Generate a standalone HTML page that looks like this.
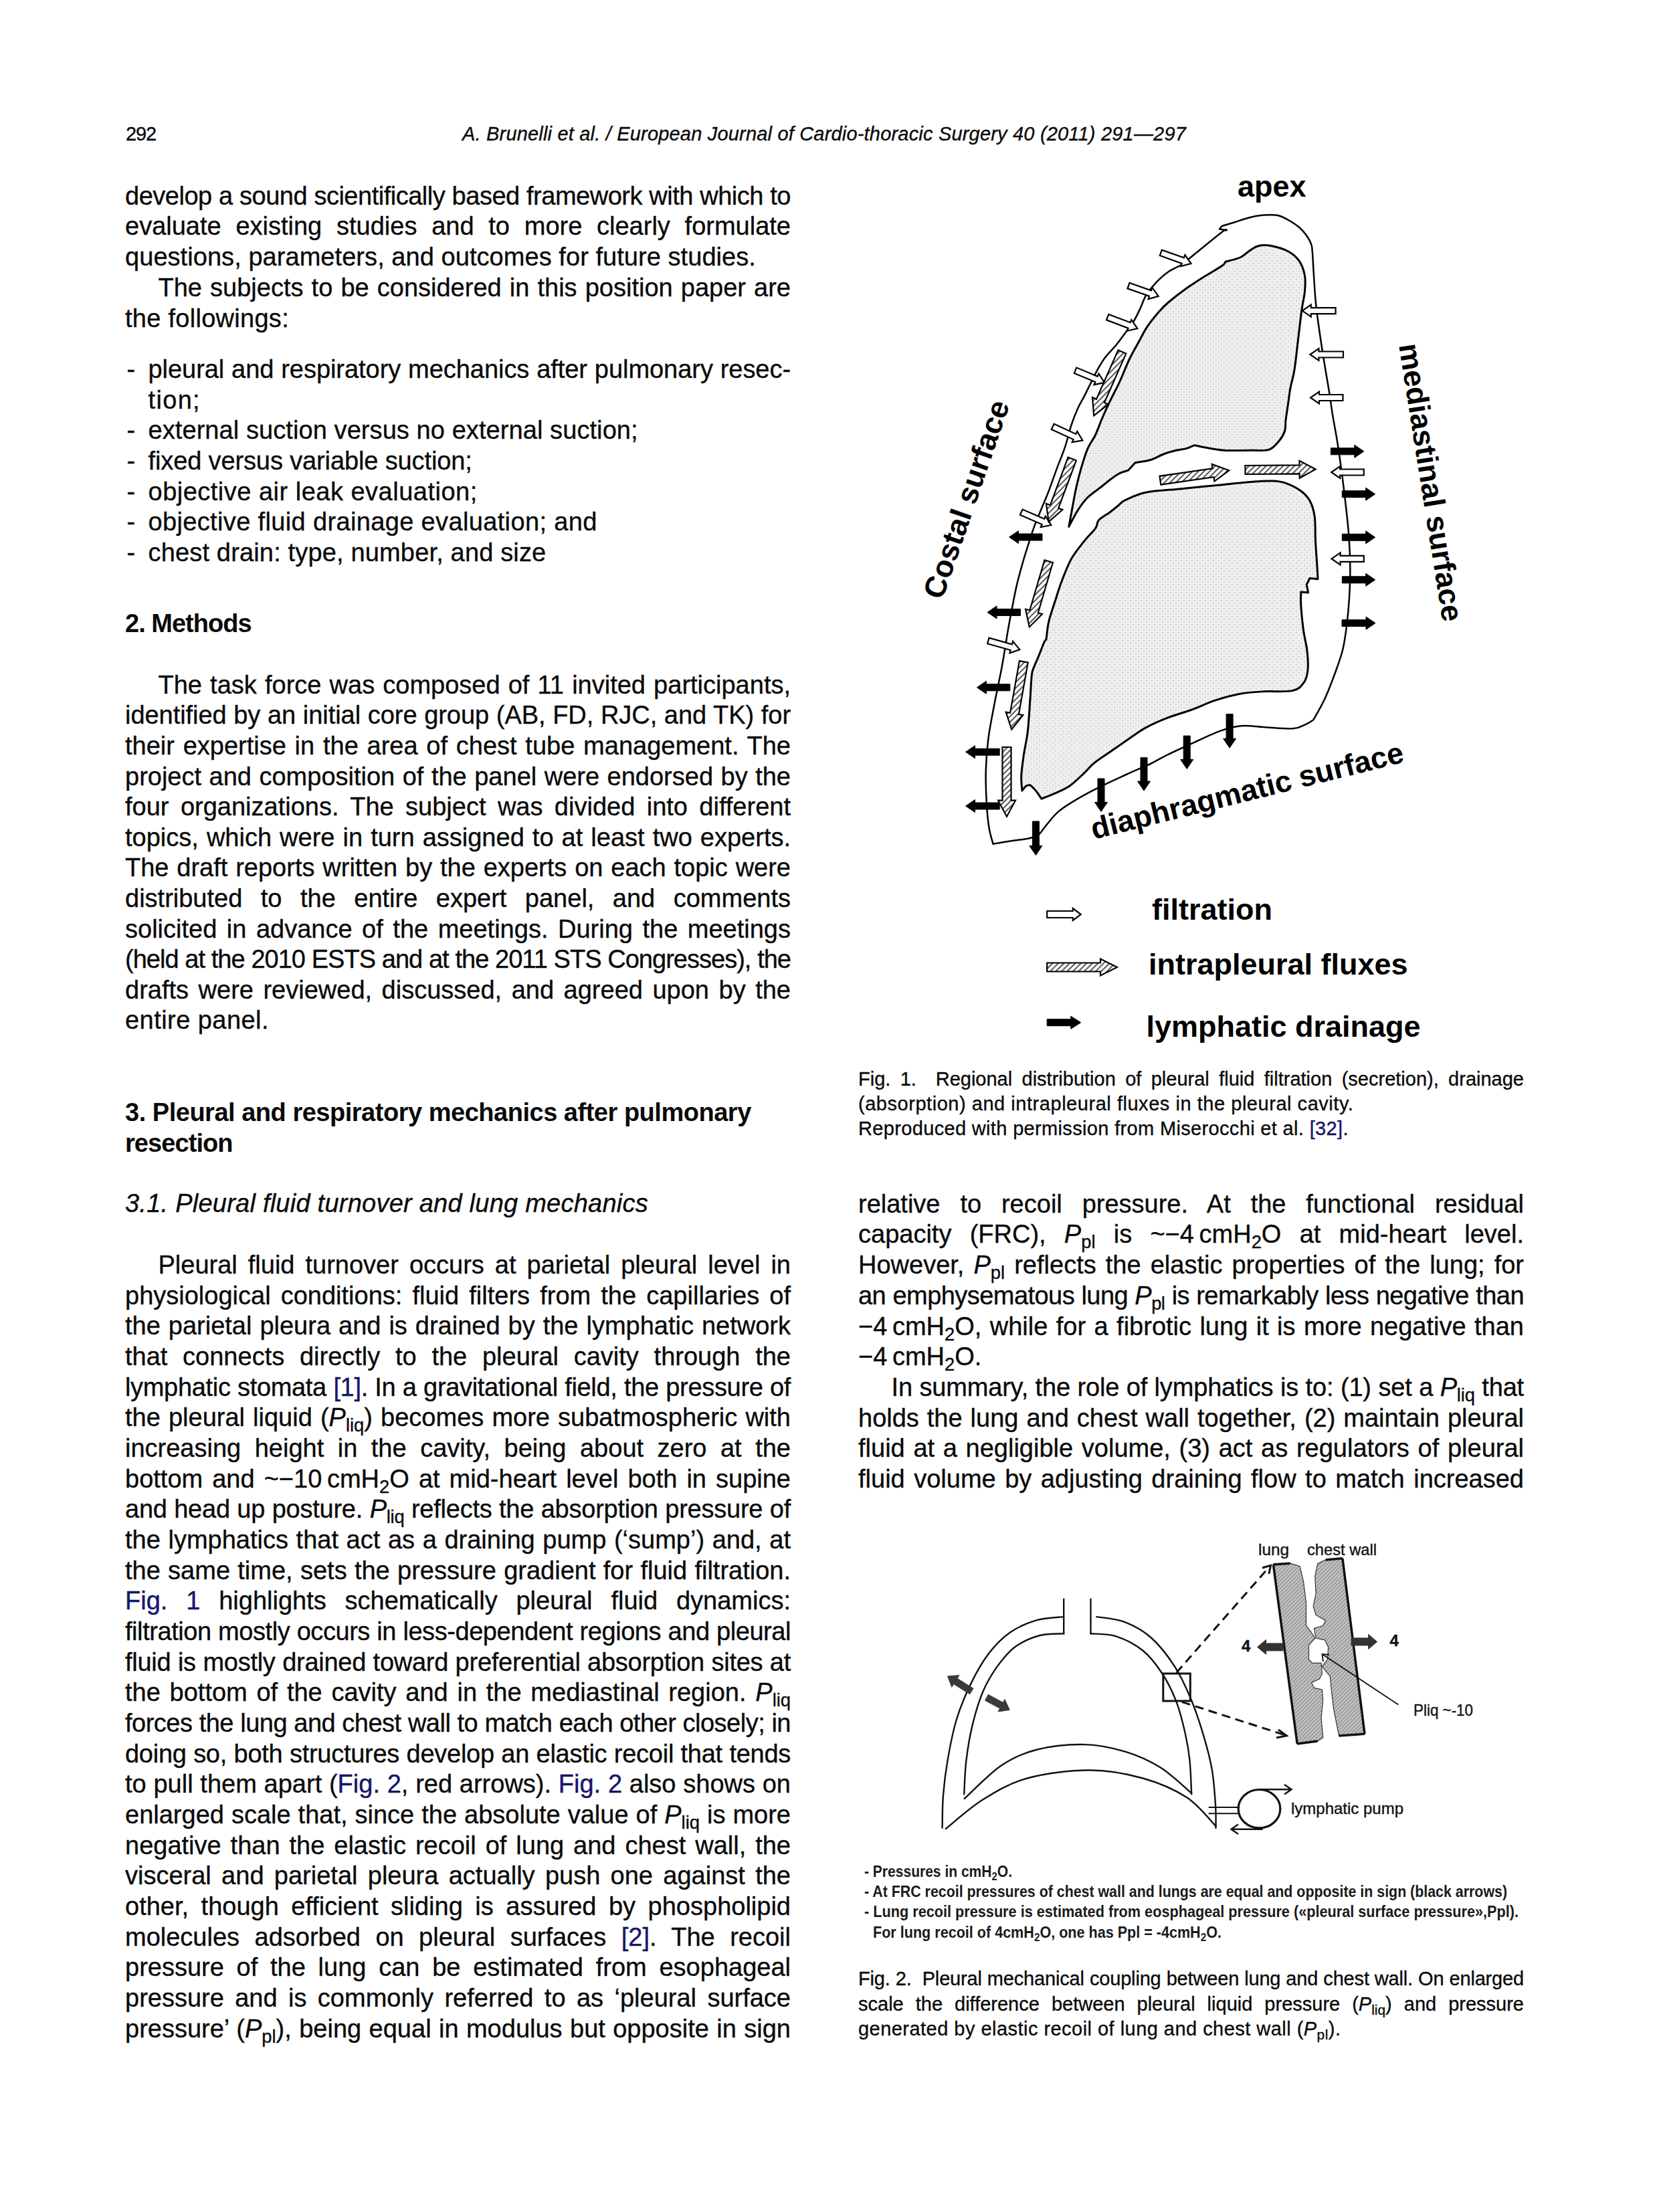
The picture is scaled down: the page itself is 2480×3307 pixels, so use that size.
<!DOCTYPE html><html><head><meta charset="utf-8"><style>
*{margin:0;padding:0}
html,body{width:2480px;height:3307px;background:#fff;overflow:hidden}
body{position:relative;font-family:"Liberation Sans",sans-serif;color:#0a0a0a}
.t{position:absolute;white-space:nowrap;font-size:38px;line-height:46px;-webkit-text-stroke:0.35px #0a0a0a}
.j{text-align:justify;text-align-last:justify;white-space:normal}
.hb{font-weight:bold;-webkit-text-stroke:0}
.hi{font-style:italic}
.cap{font-size:29px;line-height:37px}
.hd{font-size:29px;line-height:34px}
.hi2{font-style:italic}
.sb{font-size:72%;vertical-align:-0.28em;line-height:0}
.bl{color:#141482}
i{font-style:italic}
svg{position:absolute;left:0;top:0}
</style></head><body>
<div class="t j" style="left:187.0px;top:269.7px;width:995.0px;letter-spacing:-0.488px">develop a sound scientifically based framework with which to</div>
<div class="t j" style="left:187.0px;top:315.4px;width:995.0px">evaluate existing studies and to more clearly formulate</div>
<div class="t" style="left:187.0px;top:361.1px;letter-spacing:0.055px">questions, parameters, and outcomes for future studies.</div>
<div class="t j" style="left:236.5px;top:406.8px;width:945.5px">The subjects to be considered in this position paper are</div>
<div class="t" style="left:187.0px;top:452.5px;letter-spacing:0.279px">the followings:</div>
<div class="t" style="left:189.5px;top:528.8px">-</div>
<div class="t j" style="left:221.5px;top:528.8px;width:960.5px;letter-spacing:-0.044px">pleural and respiratory mechanics after pulmonary resec-</div>
<div class="t" style="left:221.5px;top:574.5px;letter-spacing:1.334px">tion;</div>
<div class="t" style="left:189.5px;top:620.2px">-</div>
<div class="t" style="left:221.5px;top:620.2px;letter-spacing:0.079px">external suction versus no external suction;</div>
<div class="t" style="left:189.5px;top:665.9px">-</div>
<div class="t" style="left:221.5px;top:665.9px;letter-spacing:-0.124px">fixed versus variable suction;</div>
<div class="t" style="left:189.5px;top:711.6px">-</div>
<div class="t" style="left:221.5px;top:711.6px;letter-spacing:0.493px">objective air leak evaluation;</div>
<div class="t" style="left:189.5px;top:757.3px">-</div>
<div class="t" style="left:221.5px;top:757.3px;letter-spacing:0.354px">objective fluid drainage evaluation; and</div>
<div class="t" style="left:189.5px;top:803.0px">-</div>
<div class="t" style="left:221.5px;top:803.0px;letter-spacing:0.159px">chest drain: type, number, and size</div>
<div class="t hb" style="left:187.0px;top:908.6px;letter-spacing:-0.987px">2. Methods</div>
<div class="t j" style="left:236.5px;top:1000.8px;width:945.5px">The task force was composed of 11 invited participants,</div>
<div class="t j" style="left:187.0px;top:1046.4px;width:995.0px;letter-spacing:-0.052px">identified by an initial core group (AB, FD, RJC, and TK) for</div>
<div class="t j" style="left:187.0px;top:1092.0px;width:995.0px">their expertise in the area of chest tube management. The</div>
<div class="t j" style="left:187.0px;top:1137.6px;width:995.0px">project and composition of the panel were endorsed by the</div>
<div class="t j" style="left:187.0px;top:1183.2px;width:995.0px">four organizations. The subject was divided into different</div>
<div class="t j" style="left:187.0px;top:1228.8px;width:995.0px">topics, which were in turn assigned to at least two experts.</div>
<div class="t j" style="left:187.0px;top:1274.4px;width:995.0px">The draft reports written by the experts on each topic were</div>
<div class="t j" style="left:187.0px;top:1320.0px;width:995.0px">distributed to the entire expert panel, and comments</div>
<div class="t j" style="left:187.0px;top:1365.6px;width:995.0px">solicited in advance of the meetings. During the meetings</div>
<div class="t j" style="left:187.0px;top:1411.2px;width:995.0px;letter-spacing:-0.988px">(held at the 2010 ESTS and at the 2011 STS Congresses), the</div>
<div class="t j" style="left:187.0px;top:1456.8px;width:995.0px">drafts were reviewed, discussed, and agreed upon by the</div>
<div class="t" style="left:187.0px;top:1502.4px;letter-spacing:0.450px">entire panel.</div>
<div class="t hb" style="left:187.0px;top:1639.6px;letter-spacing:-0.483px">3. Pleural and respiratory mechanics after pulmonary</div>
<div class="t hb" style="left:187.0px;top:1685.5px;letter-spacing:-0.930px">resection</div>
<div class="t hi" style="left:187.0px;top:1776.0px;letter-spacing:0.239px">3.1. Pleural fluid turnover and lung mechanics</div>
<div class="t j" style="left:236.5px;top:1867.8px;width:945.5px">Pleural fluid turnover occurs at parietal pleural level in</div>
<div class="t j" style="left:187.0px;top:1913.5px;width:995.0px">physiological conditions: fluid filters from the capillaries of</div>
<div class="t j" style="left:187.0px;top:1959.2px;width:995.0px">the parietal pleura and is drained by the lymphatic network</div>
<div class="t j" style="left:187.0px;top:2004.8px;width:995.0px">that connects directly to the pleural cavity through the</div>
<div class="t j" style="left:187.0px;top:2050.5px;width:995.0px;letter-spacing:-0.326px">lymphatic stomata <span class="bl">[1]</span>. In a gravitational field, the pressure of</div>
<div class="t j" style="left:187.0px;top:2096.2px;width:995.0px">the pleural liquid (<i>P</i><span class="sb">liq</span>) becomes more subatmospheric with</div>
<div class="t j" style="left:187.0px;top:2141.8px;width:995.0px">increasing height in the cavity, being about zero at the</div>
<div class="t j" style="left:187.0px;top:2187.5px;width:995.0px">bottom and ~−10&#8201;cmH<span class="sb">2</span>O at mid-heart level both in supine</div>
<div class="t j" style="left:187.0px;top:2233.2px;width:995.0px;letter-spacing:-0.239px">and head up posture. <i>P</i><span class="sb">liq</span> reflects the absorption pressure of</div>
<div class="t j" style="left:187.0px;top:2278.9px;width:995.0px">the lymphatics that act as a draining pump (‘sump’) and, at</div>
<div class="t j" style="left:187.0px;top:2324.5px;width:995.0px">the same time, sets the pressure gradient for fluid filtration.</div>
<div class="t j" style="left:187.0px;top:2370.2px;width:995.0px"><span class="bl">Fig. 1</span> highlights schematically pleural fluid dynamics:</div>
<div class="t j" style="left:187.0px;top:2415.9px;width:995.0px;letter-spacing:-0.439px">filtration mostly occurs in less-dependent regions and pleural</div>
<div class="t j" style="left:187.0px;top:2461.5px;width:995.0px;letter-spacing:-0.264px">fluid is mostly drained toward preferential absorption sites at</div>
<div class="t j" style="left:187.0px;top:2507.2px;width:995.0px">the bottom of the cavity and in the mediastinal region. <i>P</i><span class="sb">liq</span></div>
<div class="t j" style="left:187.0px;top:2552.9px;width:995.0px;letter-spacing:-0.507px">forces the lung and chest wall to match each other closely; in</div>
<div class="t j" style="left:187.0px;top:2598.5px;width:995.0px;letter-spacing:-0.270px">doing so, both structures develop an elastic recoil that tends</div>
<div class="t j" style="left:187.0px;top:2644.2px;width:995.0px">to pull them apart (<span class="bl">Fig. 2</span>, red arrows). <span class="bl">Fig. 2</span> also shows on</div>
<div class="t j" style="left:187.0px;top:2689.9px;width:995.0px">enlarged scale that, since the absolute value of <i>P</i><span class="sb">liq</span> is more</div>
<div class="t j" style="left:187.0px;top:2735.6px;width:995.0px">negative than the elastic recoil of lung and chest wall, the</div>
<div class="t j" style="left:187.0px;top:2781.2px;width:995.0px">visceral and parietal pleura actually push one against the</div>
<div class="t j" style="left:187.0px;top:2826.9px;width:995.0px">other, though efficient sliding is assured by phospholipid</div>
<div class="t j" style="left:187.0px;top:2872.6px;width:995.0px">molecules adsorbed on pleural surfaces <span class="bl">[2]</span>. The recoil</div>
<div class="t j" style="left:187.0px;top:2918.2px;width:995.0px">pressure of the lung can be estimated from esophageal</div>
<div class="t j" style="left:187.0px;top:2963.9px;width:995.0px">pressure and is commonly referred to as ‘pleural surface</div>
<div class="t j" style="left:187.0px;top:3009.6px;width:995.0px">pressure’ (<i>P</i><span class="sb">pl</span>), being equal in modulus but opposite in sign</div>
<div class="t j" style="left:1283.0px;top:1776.7px;width:995.0px">relative to recoil pressure. At the functional residual</div>
<div class="t j" style="left:1283.0px;top:1822.4px;width:995.0px">capacity (FRC), <i>P</i><span class="sb">pl</span> is ~−4&#8201;cmH<span class="sb">2</span>O at mid-heart level.</div>
<div class="t j" style="left:1283.0px;top:1868.1px;width:995.0px">However, <i>P</i><span class="sb">pl</span> reflects the elastic properties of the lung; for</div>
<div class="t j" style="left:1283.0px;top:1913.8px;width:995.0px;letter-spacing:-0.545px">an emphysematous lung <i>P</i><span class="sb">pl</span> is remarkably less negative than</div>
<div class="t j" style="left:1283.0px;top:1959.5px;width:995.0px">−4&#8201;cmH<span class="sb">2</span>O, while for a fibrotic lung it is more negative than</div>
<div class="t" style="left:1283.0px;top:2005.2px">−4&#8201;cmH<span class="sb">2</span>O.</div>
<div class="t j" style="left:1332.5px;top:2050.9px;width:945.5px;letter-spacing:-0.169px">In summary, the role of lymphatics is to: (1) set a <i>P</i><span class="sb">liq</span> that</div>
<div class="t j" style="left:1283.0px;top:2096.6px;width:995.0px">holds the lung and chest wall together, (2) maintain pleural</div>
<div class="t j" style="left:1283.0px;top:2142.3px;width:995.0px">fluid at a negligible volume, (3) act as regulators of pleural</div>
<div class="t j" style="left:1283.0px;top:2188.0px;width:995.0px">fluid volume by adjusting draining flow to match increased</div>
<div class="t cap j" style="left:1283.0px;top:1594.8px;width:995.0px">Fig. 1.&nbsp; Regional distribution of pleural fluid filtration (secretion), drainage</div>
<div class="t cap" style="left:1283.0px;top:1632.4px;letter-spacing:0.537px">(absorption) and intrapleural fluxes in the pleural cavity.</div>
<div class="t cap" style="left:1283.0px;top:1669.4px;letter-spacing:0.341px">Reproduced with permission from Miserocchi et al. <span class="bl">[32]</span>.</div>
<div class="t cap j" style="left:1283.0px;top:2940.3px;width:995.0px;letter-spacing:-0.168px">Fig. 2.&nbsp; Pleural mechanical coupling between lung and chest wall. On enlarged</div>
<div class="t cap j" style="left:1283.0px;top:2978.2px;width:995.0px">scale the difference between pleural liquid pressure (<i>P</i><span class="sb">liq</span>) and pressure</div>
<div class="t cap" style="left:1283.0px;top:3014.9px;letter-spacing:0.465px">generated by elastic recoil of lung and chest wall (<i>P</i><span class="sb">pl</span>).</div>
<div class="t hd" style="left:188.0px;top:182.7px;letter-spacing:-1.130px">292</div>
<div class="t hd hi2" style="left:691.0px;top:182.7px;letter-spacing:0.188px">A. Brunelli et al. / European Journal of Cardio-thoracic Surgery 40 (2011) 291—297</div>
<svg width="2480" height="3307" viewBox="0 0 2480 3307"><defs>
<pattern id="stip" width="8" height="8" patternUnits="userSpaceOnUse">
<rect width="8" height="8" fill="#f3f3f3"/>
<circle cx="2" cy="2" r="1.4" fill="#d6d6d6"/><circle cx="6" cy="6" r="1.4" fill="#d6d6d6"/><circle cx="2" cy="6" r="0.9" fill="#e2e2e2"/><circle cx="6" cy="2" r="0.9" fill="#e2e2e2"/>
</pattern>
<pattern id="hat" width="6" height="6" patternUnits="userSpaceOnUse" patternTransform="rotate(45)">
<rect width="6" height="6" fill="#fff"/><rect width="1.8" height="6" fill="#444"/>
</pattern>
<pattern id="hat2" width="4" height="4" patternUnits="userSpaceOnUse" patternTransform="rotate(45)">
<rect width="4" height="4" fill="#c4c4c4"/><rect width="1.3" height="4" fill="#8a8a8a"/>
</pattern>
</defs>
<path d="M1826.6,338.0 C1829.6,337.1 1839.1,334.2 1844.7,332.5 C1850.3,330.8 1854.0,329.1 1860.0,327.5 C1866.0,325.9 1874.3,323.6 1880.8,322.6 C1887.3,321.6 1893.7,321.3 1898.9,321.3 C1904.1,321.3 1907.5,321.2 1912.0,322.5 C1916.5,323.8 1921.0,326.1 1926.0,329.0 C1931.0,331.9 1937.8,336.2 1942.3,340.0 C1946.8,343.8 1950.0,347.7 1953.0,352.0 C1956.0,356.3 1958.9,361.1 1960.4,366.0 C1961.9,370.9 1961.6,373.7 1962.2,381.4 C1962.8,389.1 1963.1,399.1 1964.0,412.0 C1964.9,424.9 1965.5,440.3 1967.6,459.0 C1969.7,477.7 1973.4,502.3 1976.7,524.0 C1980.0,545.7 1985.0,573.2 1987.5,589.0 C1990.0,604.8 1989.9,606.8 1991.8,618.6 C1993.7,630.4 1996.8,645.9 1999.0,659.6 C2001.2,673.3 2003.0,685.7 2005.0,700.6 C2007.0,715.5 2009.2,732.7 2011.0,748.8 C2012.8,764.9 2014.8,780.9 2016.0,797.0 C2017.2,813.1 2018.1,829.1 2018.3,845.2 C2018.5,861.3 2017.9,878.2 2017.0,893.4 C2016.1,908.6 2014.7,923.1 2013.0,936.2 C2011.3,949.4 2010.0,960.2 2007.0,972.3 C2004.0,984.3 1999.3,996.4 1994.9,1008.5 C1990.5,1020.6 1985.6,1033.5 1980.4,1044.7 C1975.2,1056.0 1966.3,1070.8 1963.5,1076.0 C1961.5,1077.2 1956.7,1081.0 1951.5,1083.2 C1946.3,1085.4 1942.7,1088.7 1932.2,1089.3 C1921.8,1089.9 1901.7,1087.6 1888.8,1086.9 C1875.9,1086.2 1865.8,1084.2 1855.0,1085.2 C1844.2,1086.2 1836.2,1088.4 1823.7,1092.9 C1811.2,1097.4 1793.6,1106.2 1780.3,1112.2 C1767.0,1118.2 1754.2,1124.0 1744.1,1129.0 C1734.0,1134.0 1729.7,1137.2 1719.6,1142.0 C1709.5,1146.8 1695.5,1152.5 1683.4,1158.0 C1671.4,1163.5 1659.3,1168.9 1647.3,1174.9 C1635.2,1180.9 1621.9,1187.8 1611.1,1194.2 C1600.2,1200.6 1590.2,1206.6 1582.2,1213.4 C1574.2,1220.2 1567.7,1229.5 1562.9,1235.1 C1558.1,1240.7 1557.2,1244.2 1553.2,1247.2 C1549.2,1250.2 1545.2,1251.6 1538.8,1253.2 C1532.4,1254.8 1523.8,1255.4 1514.7,1256.8 C1505.7,1258.2 1489.5,1260.9 1484.5,1261.7 C1483.5,1257.7 1480.1,1247.6 1478.5,1237.6 C1476.9,1227.5 1475.7,1215.5 1474.9,1201.4 C1474.1,1187.3 1473.3,1169.3 1473.7,1153.2 C1474.1,1137.1 1475.3,1121.1 1477.3,1105.0 C1479.3,1088.9 1482.3,1074.8 1485.7,1056.7 C1489.1,1038.6 1494.3,1015.2 1497.8,996.4 C1501.3,977.6 1504.1,958.0 1506.5,944.0 C1508.9,930.0 1510.1,923.9 1512.3,912.7 C1514.5,901.5 1516.7,888.7 1519.5,876.6 C1522.3,864.5 1525.9,851.7 1529.1,840.4 C1532.3,829.1 1536.0,817.8 1538.8,809.0 C1541.6,800.2 1543.2,795.0 1546.0,787.4 C1548.8,779.8 1552.1,772.1 1555.7,763.2 C1559.3,754.4 1563.7,744.7 1567.7,734.3 C1571.7,723.9 1575.8,711.5 1579.8,700.6 C1583.8,689.8 1588.2,680.1 1591.8,669.2 C1595.4,658.4 1598.3,645.2 1601.5,635.5 C1604.7,625.8 1607.8,618.2 1611.0,611.0 C1614.2,603.8 1617.6,598.7 1620.8,592.4 C1624.0,586.1 1627.2,579.4 1630.4,573.0 C1633.6,566.6 1636.4,560.2 1640.0,553.8 C1643.6,547.4 1647.2,540.9 1652.0,534.5 C1656.8,528.1 1663.8,521.6 1669.0,515.2 C1674.2,508.8 1679.0,502.0 1683.4,496.0 C1687.8,490.0 1691.9,485.0 1695.5,479.0 C1699.1,473.0 1702.3,465.8 1705.1,459.8 C1707.9,453.8 1709.6,447.9 1712.4,442.9 C1715.2,437.9 1718.8,433.6 1722.0,429.6 C1725.2,425.6 1727.7,422.6 1731.7,418.8 C1735.7,415.0 1740.1,410.7 1746.1,406.7 C1752.1,402.7 1762.2,398.3 1767.8,394.7 C1773.4,391.1 1769.8,392.9 1779.6,385.0 C1789.4,377.1 1817.6,353.8 1826.6,347.0 C1835.6,340.2 1832.6,344.8 1833.8,344.3 L1823.0,342.5 L1826.6,338.0Z" fill="none" stroke="#000" stroke-width="2.5" stroke-linejoin="round"/>
<path d="M1785.6,665.7 C1783.5,666.5 1777.5,669.3 1772.9,670.6 C1768.3,671.9 1763.7,671.9 1758.1,673.3 C1752.5,674.7 1745.5,676.6 1739.2,679.0 C1732.9,681.4 1727.2,685.4 1720.2,687.5 C1713.2,689.6 1700.9,691.0 1697.0,691.7 L1686.4,703.3 C1684.3,704.0 1678.0,705.4 1673.8,707.5 C1669.6,709.6 1665.4,712.8 1661.0,716.0 C1656.6,719.2 1653.2,722.3 1647.3,727.0 C1641.4,731.7 1631.6,738.0 1625.6,744.0 C1619.5,750.0 1615.6,756.0 1611.0,763.2 C1606.4,770.4 1600.0,783.4 1597.8,787.4 C1598.6,783.0 1600.9,770.4 1602.7,760.8 C1604.5,751.1 1606.5,739.5 1608.7,729.5 C1610.9,719.5 1613.2,710.2 1616.0,700.6 C1618.8,691.0 1622.0,680.0 1625.6,671.6 C1629.2,663.2 1634.0,657.6 1637.6,650.0 C1641.2,642.4 1643.7,634.4 1647.3,626.0 C1650.9,617.6 1654.9,608.8 1659.3,599.6 C1663.7,590.4 1669.0,581.1 1673.8,570.7 C1678.6,560.3 1683.5,547.0 1688.3,537.0 C1693.1,527.0 1698.3,518.4 1702.7,510.4 C1707.1,502.3 1710.0,495.9 1714.8,488.7 C1719.6,481.5 1726.5,473.0 1731.7,467.0 C1736.9,461.0 1739.2,458.3 1746.0,452.5 C1752.8,446.7 1763.4,438.4 1772.3,432.0 C1781.2,425.6 1790.5,419.7 1799.5,414.0 C1808.5,408.3 1821.2,401.4 1826.6,397.6 C1832.0,393.8 1831.1,392.4 1832.0,391.3 C1835.6,390.2 1848.0,387.6 1853.7,385.0 C1859.4,382.4 1861.9,378.9 1866.4,376.0 C1870.9,373.1 1875.4,369.2 1880.8,367.8 C1886.2,366.4 1891.4,365.9 1898.9,367.3 C1906.4,368.7 1918.8,372.1 1926.0,376.0 C1933.2,379.9 1938.2,384.4 1942.3,390.4 C1946.4,396.4 1949.1,404.5 1950.5,412.0 C1951.9,419.5 1951.2,427.2 1950.5,435.6 C1949.8,444.1 1947.7,450.6 1946.0,462.7 C1944.3,474.8 1942.3,492.9 1940.5,508.0 C1938.7,523.0 1936.9,541.0 1935.0,553.0 C1933.1,565.0 1930.6,571.5 1929.0,580.0 C1927.4,588.5 1926.7,596.0 1925.5,604.0 C1924.3,612.0 1922.8,621.5 1922.0,628.2 C1921.2,634.9 1922.2,639.1 1920.6,644.2 C1919.0,649.3 1916.1,654.4 1912.2,659.0 C1908.3,663.6 1904.1,669.7 1897.4,672.1 C1890.7,674.5 1883.2,673.1 1872.0,673.3 C1860.8,673.5 1841.1,673.9 1829.9,673.3 C1818.7,672.7 1812.0,670.8 1804.6,669.5 C1797.2,668.2 1788.8,666.3 1785.6,665.7Z" fill="url(#stip)" stroke="#000" stroke-width="3" stroke-linejoin="round"/>
<path d="M1970.0,865.7 L1958.0,864.5 L1953.2,874.0 L1955.6,886.0 L1944.8,885.0 C1944.8,888.4 1944.2,896.0 1944.8,905.5 C1945.4,915.0 1946.9,930.6 1948.4,941.7 C1949.9,952.8 1952.8,962.4 1953.9,972.3 C1955.0,982.2 1955.8,993.2 1955.0,1001.3 C1954.2,1009.3 1952.8,1015.4 1949.0,1020.6 C1945.2,1025.8 1942.2,1030.4 1932.2,1032.6 C1922.2,1034.8 1902.1,1033.0 1888.8,1033.8 C1875.5,1034.6 1864.7,1035.2 1852.6,1037.4 C1840.5,1039.6 1828.5,1043.1 1816.4,1047.1 C1804.4,1051.1 1792.3,1057.1 1780.3,1061.5 C1768.2,1065.9 1755.4,1069.2 1744.1,1073.6 C1732.8,1078.0 1722.5,1082.5 1712.4,1088.1 C1702.3,1093.7 1692.2,1101.4 1683.4,1107.4 C1674.6,1113.4 1667.3,1118.6 1659.3,1124.2 C1651.3,1129.8 1641.6,1135.9 1635.2,1141.1 C1628.8,1146.3 1626.8,1150.0 1620.8,1155.6 C1614.8,1161.2 1606.6,1169.7 1599.0,1174.9 C1591.4,1180.1 1582.0,1183.7 1575.0,1186.9 C1568.0,1190.1 1559.9,1193.0 1556.9,1194.2 C1555.5,1192.2 1551.2,1185.5 1548.4,1182.1 C1545.6,1178.7 1541.4,1175.1 1540.0,1173.7 C1539.0,1173.9 1536.0,1173.5 1534.0,1174.9 C1532.0,1176.3 1528.9,1180.9 1527.9,1182.1 C1527.7,1178.5 1526.3,1169.2 1526.7,1160.4 C1527.1,1151.6 1528.7,1140.2 1530.3,1129.0 C1531.9,1117.8 1534.8,1107.0 1536.4,1092.9 C1538.0,1078.9 1539.0,1058.8 1540.0,1044.7 C1541.0,1030.6 1541.4,1016.5 1542.4,1008.5 C1543.4,1000.5 1544.2,1001.2 1546.0,996.4 C1547.8,991.6 1550.8,985.5 1553.2,979.6 C1555.6,973.7 1558.7,965.0 1560.5,961.0 C1562.3,957.0 1563.5,956.4 1564.1,955.5 C1564.7,951.2 1565.5,939.1 1567.7,929.6 C1569.9,920.1 1574.2,908.3 1577.4,898.3 C1580.6,888.2 1583.0,879.8 1587.0,869.3 C1591.0,858.8 1595.9,845.6 1601.5,835.6 C1607.1,825.6 1614.8,816.6 1620.8,809.0 C1626.8,801.4 1634.0,795.0 1637.6,789.8 C1641.2,784.6 1638.9,781.7 1642.5,777.7 C1646.1,773.7 1654.5,769.3 1659.3,765.7 C1664.1,762.1 1667.6,759.0 1671.4,756.0 C1675.2,753.0 1675.1,750.9 1682.2,747.6 C1689.3,744.3 1699.7,738.8 1713.8,736.0 C1727.9,733.2 1747.2,732.6 1766.6,730.7 C1785.9,728.8 1812.3,726.1 1829.9,724.4 C1847.5,722.6 1859.7,721.1 1872.0,720.2 C1884.3,719.3 1894.9,718.6 1903.7,719.1 C1912.5,719.6 1917.8,720.6 1924.8,723.3 C1931.8,725.9 1940.4,730.6 1946.0,735.0 C1951.6,739.4 1955.4,743.4 1958.6,749.7 C1961.8,756.0 1964.0,763.0 1965.3,772.9 C1966.6,782.8 1965.9,797.0 1966.5,809.0 C1967.1,821.0 1968.3,835.8 1968.9,845.2 C1969.5,854.7 1969.8,862.3 1970.0,865.7Z" fill="url(#stip)" stroke="#000" stroke-width="3" stroke-linejoin="round"/>
<polygon points="1733.8,382.0 1766.7,393.9 1765.2,398.1 1780.5,394.0 1771.3,381.1 1769.8,385.4 1736.8,373.6" fill="#fff" stroke="#000" stroke-width="2.2" stroke-linejoin="miter"/>
<polygon points="1685.5,431.4 1717.9,442.8 1716.5,447.1 1731.7,442.9 1722.4,430.1 1720.9,434.3 1688.5,423.0" fill="#fff" stroke="#000" stroke-width="2.2" stroke-linejoin="miter"/>
<polygon points="1654.1,478.4 1686.5,490.6 1685.0,494.8 1700.3,491.0 1691.3,478.0 1689.7,482.2 1657.3,470.0" fill="#fff" stroke="#000" stroke-width="2.2" stroke-linejoin="miter"/>
<polygon points="1605.8,558.0 1637.3,571.1 1635.5,575.2 1651.0,571.9 1642.5,558.6 1640.7,562.8 1609.2,549.6" fill="#fff" stroke="#000" stroke-width="2.2" stroke-linejoin="miter"/>
<polygon points="1571.8,642.0 1604.6,657.1 1602.7,661.1 1618.3,658.4 1610.2,644.8 1608.4,648.9 1575.6,633.8" fill="#fff" stroke="#000" stroke-width="2.2" stroke-linejoin="miter"/>
<polygon points="1524.9,769.8 1557.6,784.0 1555.8,788.1 1571.3,785.0 1562.9,771.6 1561.2,775.7 1528.5,761.6" fill="#fff" stroke="#000" stroke-width="2.2" stroke-linejoin="miter"/>
<polygon points="1476.1,962.2 1510.6,971.9 1509.4,976.2 1524.3,971.1 1514.2,958.9 1513.0,963.3 1478.5,953.6" fill="#fff" stroke="#000" stroke-width="2.2" stroke-linejoin="miter"/>
<polygon points="1996.6,460.1 1959.8,460.1 1959.8,455.6 1946.8,464.6 1959.8,473.6 1959.8,469.1 1996.6,469.1" fill="#fff" stroke="#000" stroke-width="2.2" stroke-linejoin="miter"/>
<polygon points="2008.0,525.5 1971.4,525.5 1971.4,521.0 1958.4,530.0 1971.4,539.0 1971.4,534.5 2008.0,534.5" fill="#fff" stroke="#000" stroke-width="2.2" stroke-linejoin="miter"/>
<polygon points="2007.5,590.0 1972.0,590.0 1972.0,585.5 1959.0,594.5 1972.0,603.5 1972.0,599.0 2007.5,599.0" fill="#fff" stroke="#000" stroke-width="2.2" stroke-linejoin="miter"/>
<polygon points="2038.8,701.5 2003.2,701.5 2003.2,697.0 1990.2,706.0 2003.2,715.0 2003.2,710.5 2038.8,710.5" fill="#fff" stroke="#000" stroke-width="2.2" stroke-linejoin="miter"/>
<polygon points="2038.8,830.9 2003.6,830.9 2003.6,826.4 1990.6,835.4 2003.6,844.4 2003.6,839.9 2038.8,839.9" fill="#fff" stroke="#000" stroke-width="2.2" stroke-linejoin="miter"/>
<polygon points="1989.4,679.8 2024.8,679.8 2024.8,684.3 2038.8,674.8 2024.8,665.3 2024.8,669.8 1989.4,669.8" fill="#000" stroke="#000" stroke-width="1"/>
<polygon points="2006.3,743.7 2041.7,743.7 2041.7,748.2 2055.7,738.7 2041.7,729.2 2041.7,733.7 2006.3,733.7" fill="#000" stroke="#000" stroke-width="1"/>
<polygon points="2006.3,808.3 2041.7,808.3 2041.7,812.8 2055.7,803.3 2041.7,793.8 2041.7,798.3 2006.3,798.3" fill="#000" stroke="#000" stroke-width="1"/>
<polygon points="2006.3,871.8 2041.7,871.8 2041.7,876.3 2055.7,866.8 2041.7,857.3 2041.7,861.8 2006.3,861.8" fill="#000" stroke="#000" stroke-width="1"/>
<polygon points="2006.0,936.6 2042.0,936.6 2042.0,941.1 2056.0,931.6 2042.0,922.1 2042.0,926.6 2006.0,926.6" fill="#000" stroke="#000" stroke-width="1"/>
<polygon points="1558.0,798.0 1522.6,798.0 1522.6,793.5 1508.6,803.0 1522.6,812.5 1522.6,808.0 1558.0,808.0" fill="#000" stroke="#000" stroke-width="1"/>
<polygon points="1525.5,910.4 1490.0,910.4 1490.0,905.9 1476.0,915.4 1490.0,924.9 1490.0,920.4 1525.5,920.4" fill="#000" stroke="#000" stroke-width="1"/>
<polygon points="1509.8,1022.8 1474.4,1022.8 1474.4,1018.3 1460.4,1027.8 1474.4,1037.3 1474.4,1032.8 1509.8,1032.8" fill="#000" stroke="#000" stroke-width="1"/>
<polygon points="1494.2,1119.2 1457.5,1119.2 1457.5,1114.7 1443.5,1124.2 1457.5,1133.7 1457.5,1129.2 1494.2,1129.2" fill="#000" stroke="#000" stroke-width="1"/>
<polygon points="1494.2,1200.0 1457.5,1200.0 1457.5,1195.5 1443.5,1205.0 1457.5,1214.5 1457.5,1210.0 1494.2,1210.0" fill="#000" stroke="#000" stroke-width="1"/>
<polygon points="1543.4,1227.9 1543.4,1264.5 1538.9,1264.5 1548.4,1278.5 1557.9,1264.5 1553.4,1264.5 1553.4,1227.9" fill="#000" stroke="#000" stroke-width="1"/>
<polygon points="1641.0,1164.0 1641.0,1199.4 1636.5,1199.4 1646.0,1213.4 1655.5,1199.4 1651.0,1199.4 1651.0,1164.0" fill="#000" stroke="#000" stroke-width="1"/>
<polygon points="1705.0,1132.7 1705.0,1168.1 1700.5,1168.1 1710.0,1182.1 1719.5,1168.1 1715.0,1168.1 1715.0,1132.7" fill="#000" stroke="#000" stroke-width="1"/>
<polygon points="1769.2,1100.1 1769.2,1135.5 1764.7,1135.5 1774.2,1149.5 1783.7,1135.5 1779.2,1135.5 1779.2,1100.1" fill="#000" stroke="#000" stroke-width="1"/>
<polygon points="1833.1,1067.6 1833.1,1104.2 1828.6,1104.2 1838.1,1118.2 1847.6,1104.2 1843.1,1104.2 1843.1,1067.6" fill="#000" stroke="#000" stroke-width="1"/>
<polygon points="1671.5,523.4 1639.0,596.7 1633.0,594.1 1635.2,621.3 1656.8,604.6 1650.9,602.0 1683.3,528.6" fill="url(#hat)" stroke="#000" stroke-width="2.2" stroke-linejoin="miter"/>
<polygon points="1596.6,683.7 1570.0,755.2 1563.9,753.0 1567.7,780.0 1588.3,762.0 1582.2,759.8 1608.8,688.3" fill="url(#hat)" stroke="#000" stroke-width="2.2" stroke-linejoin="miter"/>
<polygon points="1561.5,837.4 1539.3,912.5 1533.1,910.7 1538.8,937.4 1558.0,918.0 1551.8,916.2 1573.9,841.0" fill="url(#hat)" stroke="#000" stroke-width="2.2" stroke-linejoin="miter"/>
<polygon points="1523.9,988.1 1510.1,1065.7 1503.7,1064.6 1512.3,1090.5 1529.3,1069.1 1522.9,1068.0 1536.7,990.3" fill="url(#hat)" stroke="#000" stroke-width="2.2" stroke-linejoin="miter"/>
<polygon points="1498.5,1117.0 1498.5,1196.7 1492.0,1196.7 1505.0,1220.7 1518.0,1196.7 1511.5,1196.7 1511.5,1117.0" fill="url(#hat)" stroke="#000" stroke-width="2.2" stroke-linejoin="miter"/>
<polygon points="1735.3,724.6 1814.5,713.2 1815.4,719.6 1837.3,703.3 1811.7,693.9 1812.6,700.3 1733.5,711.8" fill="url(#hat)" stroke="#000" stroke-width="2.2" stroke-linejoin="miter"/>
<polygon points="1861.6,709.0 1942.7,708.3 1942.7,714.8 1966.6,701.6 1942.5,688.8 1942.5,695.3 1861.4,696.0" fill="url(#hat)" stroke="#000" stroke-width="2.2" stroke-linejoin="miter"/>
<polygon points="1565.2,1372.0 1603.8,1372.0 1603.8,1376.0 1615.8,1367.0 1603.8,1358.0 1603.8,1362.0 1565.2,1362.0" fill="#fff" stroke="#000" stroke-width="2.2" stroke-linejoin="miter"/>
<polygon points="1565.2,1452.5 1645.0,1452.5 1645.0,1458.5 1670.0,1446.0 1645.0,1433.5 1645.0,1439.5 1565.2,1439.5" fill="url(#hat)" stroke="#000" stroke-width="2.2" stroke-linejoin="miter"/>
<polygon points="1565.2,1533.7 1600.8,1533.7 1600.8,1538.2 1615.8,1528.7 1600.8,1519.2 1600.8,1523.7 1565.2,1523.7" fill="#000" stroke="#000" stroke-width="1"/>
<text x="1850" y="293.6" font-family="Liberation Sans" font-weight="bold" font-size="45" fill="#000">apex</text>
<text font-family="Liberation Sans" font-weight="bold" font-size="45" fill="#000" transform="translate(1408.6,898) rotate(-71)">Costal surface</text>
<text font-family="Liberation Sans" font-weight="bold" font-size="45" fill="#000" transform="translate(2091,516) rotate(81)">mediastinal surface</text>
<text font-family="Liberation Sans" font-weight="bold" font-size="45" fill="#000" transform="translate(1635,1255) rotate(-14)">diaphragmatic surface</text>
<text x="1722" y="1375" font-family="Liberation Sans" font-weight="bold" font-size="45" fill="#000">filtration</text>
<text x="1717" y="1457.4" font-family="Liberation Sans" font-weight="bold" font-size="45" fill="#000">intrapleural fluxes</text>
<text x="1713.5" y="1549.7" font-family="Liberation Sans" font-weight="bold" font-size="45" fill="#000">lymphatic drainage</text>
<path d="M1590.2,2417.1 C1583.3,2418.0 1562.6,2418.4 1549.1,2422.4 C1535.6,2426.4 1521.2,2432.6 1509.3,2441.0 C1497.4,2449.4 1487.2,2460.0 1477.5,2472.8 C1467.8,2485.6 1459.0,2501.5 1451.0,2517.9 C1443.0,2534.3 1435.5,2552.0 1429.8,2571.0 C1424.0,2590.0 1419.8,2613.0 1416.5,2632.0 C1413.2,2651.0 1411.2,2668.2 1409.9,2685.0 C1408.6,2701.8 1408.8,2724.8 1408.6,2732.7" fill="none" stroke="#111" stroke-width="2.4" stroke-linecap="round" stroke-linejoin="round"/>
<path d="M1590.2,2442.3 C1584.2,2442.8 1566.6,2441.7 1554.4,2445.0 C1542.2,2448.3 1527.9,2454.5 1517.3,2462.2 C1506.7,2469.9 1498.8,2480.3 1490.8,2491.4 C1482.8,2502.5 1475.8,2513.9 1469.6,2528.5 C1463.4,2543.1 1457.9,2561.7 1453.7,2578.9 C1449.5,2596.2 1446.5,2614.8 1444.4,2632.0 C1442.3,2649.2 1441.7,2674.0 1441.2,2682.4" fill="none" stroke="#111" stroke-width="2.4" stroke-linecap="round" stroke-linejoin="round"/>
<path d="M1639.3,2417.1 C1646.4,2418.4 1668.0,2419.8 1681.7,2425.1 C1695.4,2430.4 1709.1,2437.9 1721.5,2449.0 C1733.9,2460.1 1746.3,2476.4 1756.0,2491.4 C1765.7,2506.4 1772.8,2522.3 1779.9,2539.1 C1787.0,2555.9 1793.1,2574.5 1798.4,2592.2 C1803.7,2609.9 1808.6,2627.5 1811.7,2645.2 C1814.8,2662.9 1816.0,2683.7 1817.0,2698.3 C1818.0,2712.9 1817.4,2727.0 1817.5,2732.7" fill="none" stroke="#111" stroke-width="2.4" stroke-linecap="round" stroke-linejoin="round"/>
<path d="M1630.5,2442.3 C1636.8,2443.0 1655.5,2442.1 1668.5,2446.3 C1681.5,2450.5 1696.8,2458.2 1708.3,2467.5 C1719.8,2476.8 1729.0,2489.2 1737.4,2502.0 C1745.8,2514.8 1752.8,2529.4 1758.6,2544.4 C1764.3,2559.4 1768.6,2577.6 1771.9,2592.2 C1775.2,2606.8 1777.0,2617.0 1778.5,2632.0 C1780.0,2647.0 1780.8,2674.0 1781.2,2682.4" fill="none" stroke="#111" stroke-width="2.4" stroke-linecap="round" stroke-linejoin="round"/>
<path d="M1441.7,2689.0 C1450.8,2680.8 1478.2,2652.1 1496.1,2639.9 C1514.0,2627.7 1528.3,2621.3 1549.1,2616.0 C1569.9,2610.7 1598.6,2607.7 1620.7,2608.1 C1642.8,2608.5 1662.7,2612.9 1681.7,2618.7 C1700.7,2624.4 1718.2,2632.2 1734.8,2642.6 C1751.4,2653.0 1773.5,2674.6 1781.2,2681.0" fill="none" stroke="#111" stroke-width="2.4" stroke-linecap="round" stroke-linejoin="round"/>
<path d="M1413.9,2734.0 C1423.2,2726.7 1449.3,2702.9 1469.6,2690.3 C1489.9,2677.7 1509.4,2665.8 1535.9,2658.5 C1562.4,2651.2 1600.0,2646.5 1628.7,2646.5 C1657.4,2646.5 1684.0,2651.7 1708.3,2658.5 C1732.6,2665.3 1756.4,2675.7 1774.6,2687.6 C1792.8,2699.5 1810.3,2722.9 1817.5,2730.0" fill="none" stroke="#111" stroke-width="2.4" stroke-linecap="round" stroke-linejoin="round"/>
<path d="M1590.2,2390.6 L1590.2,2442.3 M1630.5,2390.6 L1630.5,2442.3" fill="none" stroke="#111" stroke-width="2.4" stroke-linecap="round" stroke-linejoin="round"/>
<polygon points="1455.0,2524.3 1431.0,2509.2 1433.9,2504.6 1416.5,2506.0 1422.8,2522.3 1425.7,2517.7 1449.6,2532.7" fill="#3a3a3a" stroke="#3a3a3a" stroke-width="1"/>
<polygon points="1472.5,2542.2 1494.6,2554.1 1492.0,2559.0 1509.3,2556.4 1502.0,2540.5 1499.4,2545.3 1477.3,2533.4" fill="#3a3a3a" stroke="#3a3a3a" stroke-width="1"/>
<rect x="1738.8" y="2502" width="40.5" height="41" fill="none" stroke="#111" stroke-width="3"/>
<path d="M1758.6,2500.7 L1897,2343" fill="none" stroke="#111" stroke-width="3" stroke-dasharray="13,8"/>
<path d="M1766.6,2544.4 L1921,2594" fill="none" stroke="#111" stroke-width="3" stroke-dasharray="13,8"/>
<path d="M1887,2344 L1899.5,2340.4 L1897,2353" fill="none" stroke="#111" stroke-width="3"/>
<path d="M1911,2586 L1923.3,2595 L1908,2598" fill="none" stroke="#111" stroke-width="3"/>
<polygon points="1903.4,2339.1 1928.6,2337.2 1943.2,2341.7 1948.5,2364.3 1952.5,2396.1 1952.5,2430.6 1959.1,2438.5 1965.8,2449.1 1956.5,2459.7 1956.5,2481.0 1961.8,2486.3 1975.0,2486.3 1976.4,2502.2 1972.4,2510.1 1960.5,2515.4 1964.4,2523.4 1976.4,2526.0 1977.7,2542.0 1975.0,2568.5 1977.7,2597.6 1969.7,2603.0 1939.2,2606.9" fill="url(#hat2)" stroke="#333" stroke-width="1.2"/>
<polygon points="1981.7,2331.9 2006.9,2329.8 2040.0,2592.3 2001.6,2595.0 1993.6,2555.2 1989.6,2520.7 1988.3,2506.2 1976.4,2491.6 1984.3,2481.0 1985.7,2462.4 1980.4,2451.8 1967.1,2449.1 1964.4,2434.5 1977.7,2430.6 1981.7,2422.6 1967.1,2414.7 1963.1,2401.4 1967.1,2382.8 1965.8,2356.3 1969.7,2337.7" fill="url(#hat2)" stroke="#333" stroke-width="1.2"/>
<path d="M1903.4,2339.1 L1939.2,2606.9 M1903.4,2339.1 L1928.6,2337.2 M1939.2,2606.9 L1969.7,2603" stroke="#111" stroke-width="3.5" fill="none"/>
<path d="M2006.9,2329.8 L2040,2592.3 M1981.7,2331.9 L2006.9,2329.8 M2001.6,2595 L2040,2592.3" stroke="#111" stroke-width="3.5" fill="none"/>
<polygon points="1918.0,2456.9 1892.6,2456.9 1892.6,2451.4 1879.6,2462.4 1892.6,2473.4 1892.6,2467.9 1918.0,2467.9" fill="#333" stroke="#333" stroke-width="1"/>
<polygon points="2020.1,2459.9 2045.6,2459.9 2045.6,2465.4 2058.6,2454.4 2045.6,2443.4 2045.6,2448.9 2020.1,2448.9" fill="#333" stroke="#333" stroke-width="1"/>
<path d="M2090.4,2548.6 L1976.4,2473" stroke="#111" stroke-width="1.8" fill="none"/>
<path d="M1978,2484 L1976.4,2473 L1987,2474" stroke="#111" stroke-width="1.8" fill="none"/>
<ellipse cx="1882.5" cy="2704.2" rx="31.3" ry="28.7" fill="none" stroke="#111" stroke-width="3.2"/>
<path d="M1882.5,2675.3 L1930.6,2675.3 M1920,2668 L1930.6,2675.3 L1920,2682.5" stroke="#111" stroke-width="2.4" fill="none"/>
<path d="M1887.6,2734.7 L1840.5,2734.7 M1851,2727.5 L1840.5,2734.7 L1851,2742" stroke="#111" stroke-width="2.4" fill="none"/>
<path d="M1806.6,2701.9 L1852.8,2701.9 M1806.6,2711.3 L1852.8,2711.3" stroke="#111" stroke-width="2" fill="none"/>
<text x="1881" y="2325" font-family="Liberation Sans" font-size="24" fill="#111" stroke="#111" stroke-width="0.4" textLength="46" lengthAdjust="spacingAndGlyphs">lung</text>
<text x="1954" y="2325" font-family="Liberation Sans" font-size="24" fill="#111" stroke="#111" stroke-width="0.4" textLength="104" lengthAdjust="spacingAndGlyphs">chest wall</text>
<text x="2113" y="2564.5" font-family="Liberation Sans" font-size="24" fill="#111" stroke="#111" stroke-width="0.4" textLength="89" lengthAdjust="spacingAndGlyphs">Pliq ~-10</text>
<text x="1930" y="2712" font-family="Liberation Sans" font-size="24" fill="#111" stroke="#111" stroke-width="0.4" textLength="168" lengthAdjust="spacingAndGlyphs">lymphatic pump</text>
<text x="1856" y="2469" font-family="Liberation Sans" font-size="24" fill="#111" stroke="#111" stroke-width="0.4" font-weight="bold">4</text>
<text x="2077.5" y="2461" font-family="Liberation Sans" font-size="24" fill="#111" stroke="#111" stroke-width="0.4" font-weight="bold">4</text>
<text x="1292" y="2805.7" font-family="Liberation Sans" font-weight="bold" font-size="24" fill="#1a1a1a" lengthAdjust="spacingAndGlyphs" textLength="221">- Pressures in cmH<tspan font-size="17" dy="5">2</tspan><tspan dy="-5">O.</tspan></text>
<text x="1292" y="2836.4" font-family="Liberation Sans" font-weight="bold" font-size="24" fill="#1a1a1a" lengthAdjust="spacingAndGlyphs" textLength="961">- At FRC recoil pressures of chest wall and lungs are equal and opposite in sign (black arrows)</text>
<text x="1292" y="2866.2" font-family="Liberation Sans" font-weight="bold" font-size="24" fill="#1a1a1a" lengthAdjust="spacingAndGlyphs" textLength="978">- Lung recoil pressure is estimated from eosphageal pressure («pleural surface  pressure»,Ppl).</text>
<text x="1305" y="2896.6" font-family="Liberation Sans" font-weight="bold" font-size="24" fill="#1a1a1a" lengthAdjust="spacingAndGlyphs" textLength="521">For lung recoil of 4cmH<tspan font-size="17" dy="5">2</tspan><tspan dy="-5">O, one has Ppl = -4cmH<tspan font-size="17" dy="5">2</tspan><tspan dy="-5">O.</tspan></text></svg>
</body></html>
